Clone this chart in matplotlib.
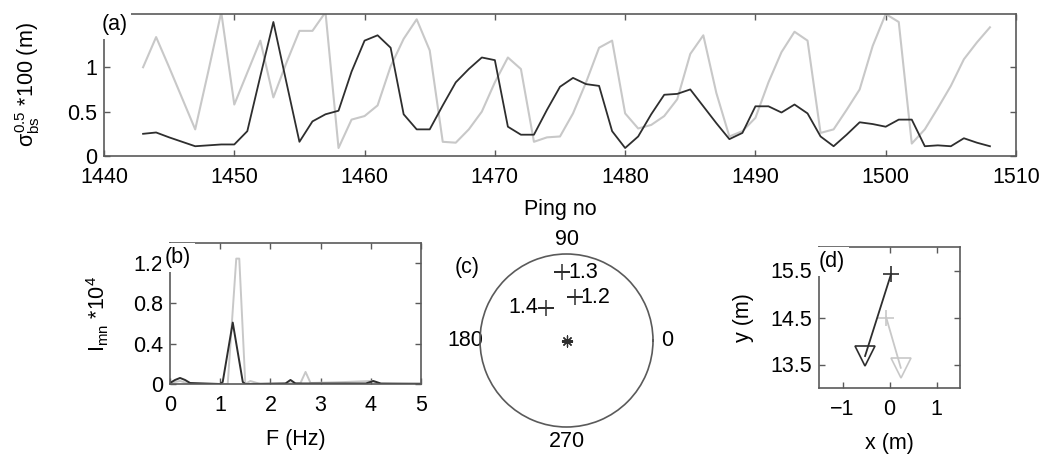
import numpy as np
import matplotlib
matplotlib.use("Agg")
import matplotlib.pyplot as plt

plt.rcParams['font.family'] = ['Liberation Sans', 'DejaVu Sans']
plt.rcParams['mathtext.fontset'] = 'custom'
plt.rcParams['mathtext.rm'] = 'Liberation Sans'
plt.rcParams['mathtext.it'] = 'Liberation Sans'
plt.rcParams['mathtext.sf'] = 'Liberation Sans'

# ---------------- data ----------------
ping_no = np.arange(1443, 1509)
sigma_dark = [0.25, 0.265, 0.21, 0.16, 0.11, 0.12, 0.13, 0.13, 0.28, 0.90,
              1.51, 0.83, 0.16, 0.39, 0.47, 0.51, 0.95, 1.30, 1.36, 1.22,
              0.47, 0.30, 0.30, 0.57, 0.83, 0.98, 1.11, 1.08, 0.33, 0.24,
              0.24, 0.52, 0.78, 0.88, 0.81, 0.79, 0.28, 0.09, 0.22, 0.47,
              0.69, 0.70, 0.75, 0.56, 0.37, 0.19, 0.26, 0.56, 0.56, 0.49,
              0.58, 0.48, 0.22, 0.11, 0.24, 0.38, 0.36, 0.33, 0.41, 0.41,
              0.11, 0.12, 0.11, 0.20, 0.15, 0.11]
sigma_light = [1.00, 1.34, 1.00, 0.65, 0.30, 0.95, 1.62, 0.58, 0.94, 1.30,
               0.66, 1.05, 1.41, 1.41, 1.62, 0.09, 0.41, 0.45, 0.57, 1.01,
               1.32, 1.54, 1.19, 0.16, 0.15, 0.30, 0.50, 0.83, 1.11, 0.98,
               0.16, 0.21, 0.22, 0.48, 0.83, 1.22, 1.30, 0.48, 0.31, 0.35,
               0.45, 0.64, 1.15, 1.36, 0.71, 0.22, 0.28, 0.43, 0.83, 1.17,
               1.40, 1.30, 0.26, 0.30, 0.52, 0.75, 1.24, 1.60, 1.51, 0.14,
               0.30, 0.54, 0.79, 1.09, 1.28, 1.45]

freq_dark = [0.0, 0.1, 0.2, 0.3, 0.4, 1.0, 1.05, 1.25, 1.45, 1.5, 2.3, 2.4, 2.5,
             3.9, 4.05, 4.2, 5.0]
spec_dark = [0.01, 0.04, 0.06, 0.04, 0.01, 0.0, 0.02, 0.61, 0.02, 0.0, 0.005, 0.04,
             0.005, 0.005, 0.03, 0.005, 0.0]
freq_light = [0.0, 0.2, 0.4, 1.15, 1.32, 1.38, 1.5, 1.6, 1.8, 2.6, 2.7, 2.8,
              3.5, 4.0, 4.2, 5.0]
spec_light = [0.01, 0.03, 0.0, 0.0, 1.245, 1.245, 0.0, 0.03, 0.0, 0.01, 0.12, 0.01,
              0.02, 0.03, 0.0, 0.01]

polar_angle_deg = [93.5, 78.9, 122.4]
polar_radius = [0.79, 0.51, 0.45]
polar_labels = ['1.3', '1.2', '1.4']

track_dark_x = [-0.52, 0.035]
track_dark_y = [13.68, 15.43]
track_light_x = [0.24, -0.07]
track_light_y = [13.43, 14.5]

DARK = '#2e2e2e'
LIGHT = '#c8c8c8'
SPINE = '#5a5a5a'
FS = 15.5

W, H = 1047, 459
fig = plt.figure(figsize=(W / 100, H / 100), dpi=100)


def pos(l, t, r, b):
    return [l / W, 1 - b / H, (r - l) / W, (b - t) / H]


def style(ax):
    for s in ax.spines.values():
        s.set_color(SPINE)
        s.set_linewidth(1.2)
    ax.tick_params(direction='in', top=True, right=True, length=4, width=1,
                   color=SPINE, labelsize=FS)
    ax.tick_params(axis='x', pad=8)
    ax.tick_params(axis='y', pad=5)


def corner_label(ax, txt, dx=0.0, dy=0.0):
    ax.text(dx, 1 + dy, txt, transform=ax.transAxes, ha='left', va='top',
            fontsize=FS, zorder=10, clip_on=False,
            bbox=dict(facecolor='white', edgecolor='none', pad=3))


# ---------------- (a) ----------------
axa = fig.add_axes(pos(104, 14, 1016, 156))
axa.plot(ping_no, sigma_light, color=LIGHT, lw=1.5)
axa.plot(ping_no, sigma_dark, color=DARK, lw=1.3)
axa.set_xlim(1440, 1510)
axa.set_ylim(0, 1.6)
axa.set_xticks([1440, 1450, 1460, 1470, 1480, 1490, 1500, 1510])
axa.set_yticks([0, 0.5, 1])
axa.set_yticklabels(['0', '0.5', '1'])
style(axa)
axa.set_xlabel('Ping no', fontsize=FS, labelpad=8)
axa.set_ylabel(r'$\sigma_{\mathrm{bs}}^{0.5}$ *100 (m)', fontsize=FS, labelpad=18)
corner_label(axa, '(a)', dx=-0.003, dy=0.0)

# ---------------- (b) ----------------
axb = fig.add_axes(pos(170, 243, 421, 384))
axb.plot(freq_light, spec_light, color=LIGHT, lw=1.4)
axb.plot(freq_dark, spec_dark, color=DARK, lw=1.4)
axb.set_xlim(0, 5)
axb.set_ylim(0, 1.4)
axb.set_xticks([0, 1, 2, 3, 4, 5])
axb.set_yticks([0, 0.4, 0.8, 1.2])
axb.set_yticklabels(['0', '0.4', '0.8', '1.2'])
style(axb)
axb.set_xlabel('F (Hz)', fontsize=FS, labelpad=9)
axb.set_ylabel(r'I$_{\mathrm{mn}}$ *10$^{4}$', fontsize=FS, labelpad=16)
corner_label(axb, '(b)', dx=-0.02, dy=-0.03)

# ---------------- (c) ----------------
axc = fig.add_axes(pos(480, 254, 653, 427), projection='polar')
theta = np.deg2rad(polar_angle_deg)
axc.plot(theta, polar_radius, linestyle='none', marker='+', markersize=12,
         markeredgewidth=1.1, color=DARK)
axc.plot([0], [0], linestyle='none', marker=(8, 2, 0), markersize=8,
         markeredgewidth=0.9, color=DARK)
offsets = [(4, 0, 'left'), (4, 0, 'left'), (-5, 0, 'right')]
for t, r, lab, (ox, oy, ha) in zip(theta, polar_radius, polar_labels, offsets):
    axc.annotate(lab, (t, r), xytext=(ox, oy), textcoords='offset points',
                 ha=ha, va='center', fontsize=FS)
axc.set_ylim(0, 1)
axc.set_yticks([])
axc.set_thetagrids([0, 90, 180, 270], labels=['0', '90', '180', '270'])
axc.grid(False)
axc.spines['polar'].set_color(SPINE)
axc.spines['polar'].set_linewidth(1.2)
axc.tick_params(axis='x', labelsize=FS, pad=0)
fig.text(467 / W, 1 - 268 / H, '(c)', fontsize=FS, ha='center', va='center')

# ---------------- (d) ----------------
axd = fig.add_axes(pos(819, 247, 960, 388))
axd.plot(track_light_x, track_light_y, color=LIGHT, lw=1.3)
axd.plot(track_light_x[0], track_light_y[0], marker='v', markersize=14,
         markerfacecolor='none', markeredgecolor=LIGHT, markeredgewidth=1.2)
axd.plot(track_light_x[1], track_light_y[1], marker='+', markersize=11,
         markeredgecolor=LIGHT, markeredgewidth=1.2)
axd.plot(track_dark_x, track_dark_y, color=DARK, lw=1.3)
axd.plot(track_dark_x[0], track_dark_y[0], marker='v', markersize=14,
         markerfacecolor='none', markeredgecolor=DARK, markeredgewidth=1.2)
axd.plot(track_dark_x[1], track_dark_y[1], marker='+', markersize=11,
         markeredgecolor=DARK, markeredgewidth=1.2)
axd.set_xlim(-1.5, 1.5)
axd.set_ylim(13, 16)
axd.set_xticks([-1, 0, 1])
axd.set_yticks([13.5, 14.5, 15.5])
style(axd)
axd.set_xlabel('x (m)', fontsize=FS, labelpad=9)
axd.set_ylabel('y (m)', fontsize=FS, labelpad=12)
corner_label(axd, '(d)', dx=-0.005, dy=-0.03)

fig.savefig('out.png', dpi=100)
